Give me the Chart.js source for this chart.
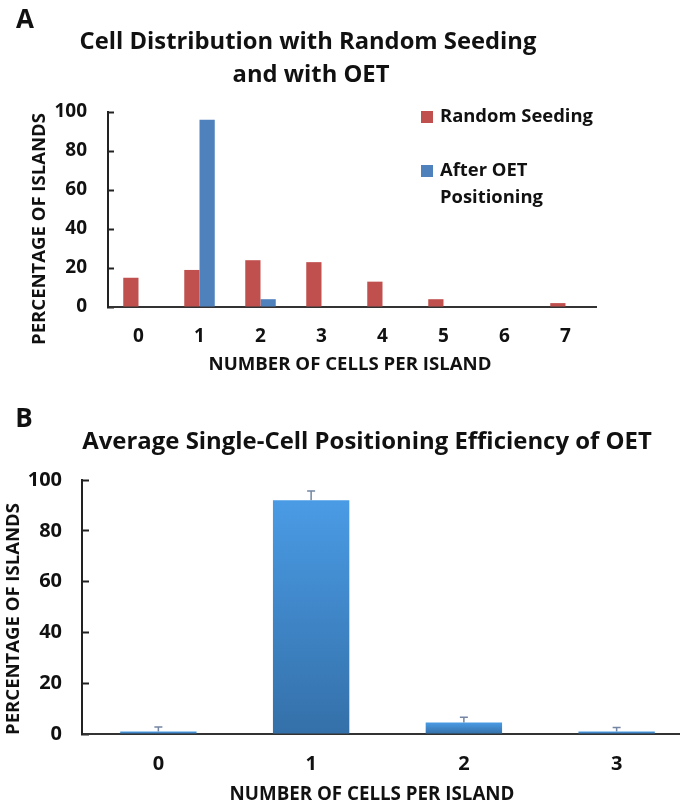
<!DOCTYPE html>
<html>
<head>
<meta charset="utf-8">
<script src="https://cdn.jsdelivr.net/npm/chart.js@4"></script>
<style>
  html, body { margin: 0; padding: 0; background: #fff; }
  #wrap { position: relative; width: 680px; height: 808px; overflow: hidden; }
  #boxA { position: absolute; left: 0; top: 0; width: 680px; height: 380px; }
  #boxB { position: absolute; left: 0; top: 380px; width: 700px; height: 428px; }
</style>
</head>
<body>
<div id="wrap">
  <div id="boxA"><canvas id="chartA" width="680" height="380"></canvas></div>
  <div id="boxB"><canvas id="chartB" width="700" height="428"></canvas></div>
</div>
<script>
// Panel A: distribution of cells per island, random seeding vs OET
const CELLS_A = ['0', '1', '2', '3', '4', '5', '6', '7'];
const RANDOM_SEEDING = [15, 19, 24, 23, 13, 4, 0, 2];
const AFTER_OET = [0, 96, 4, 0, 0, 0, 0, 0];
const SERIES_A = ['Random Seeding', 'After OET Positioning'];

// Panel B: average single-cell positioning efficiency (mean + upper error)
const CELLS_B = ['0', '1', '2', '3'];
const EFFICIENCY = [1, 92, 4.5, 1];
const EFFICIENCY_ERR = [1.8, 3.7, 2.1, 1.6];

const Y_TICKS = [0, 20, 40, 60, 80, 100];

const FONT = '"Open Sans", Lato, sans-serif';
const INK = '#111';
const RED = '#c0504d';
const BLUE = '#4f81bd';

// font size that makes text span the given width
function fitSize(ctx, text, w) {
  ctx.font = `bold 20px ${FONT}`;
  return 20 * w / ctx.measureText(text).width;
}

// free text (panel letters, titles, axis titles) and the panel A legend
const figureText = {
  id: 'figureText',
  afterDraw(chart, args, opts) {
    const ctx = chart.ctx;
    ctx.save();
    ctx.fillStyle = INK;
    ctx.textBaseline = 'middle';
    (opts.items || []).forEach(t => {
      const size = t.w ? fitSize(ctx, t.fitText || t.text, t.w) : t.size;
      ctx.save();
      ctx.font = `bold ${size}px ${FONT}`;
      ctx.textAlign = 'center';
      ctx.translate(t.x, t.y);
      if (t.rotate) ctx.rotate(t.rotate);
      ctx.fillText(t.text, 0, 0);
      ctx.restore();
    });
    if (opts.legend) {
      const lg = opts.legend;
      const size = fitSize(ctx, chart.data.datasets[0].label, lg.w);
      ctx.font = `bold ${size}px ${FONT}`;
      ctx.textAlign = 'left';
      chart.data.datasets.forEach((ds, i) => {
        const y = lg.y[i];
        ctx.fillStyle = ds.backgroundColor;
        ctx.fillRect(lg.x, y - 6, 12, 12);
        ctx.fillStyle = INK;
        const lines = ds.label.replace('OET ', 'OET\n').split('\n');
        lines.forEach((line, k) => ctx.fillText(line, lg.x + 19, y + k * lg.lineGap));
      });
    }
    ctx.restore();
  }
};

// upward error bars for panel B
const errorBars = {
  id: 'errorBars',
  afterDatasetsDraw(chart, args, opts) {
    if (!opts.errors) return;
    const ctx = chart.ctx;
    const y = chart.scales.y;
    const meta = chart.getDatasetMeta(0);
    ctx.save();
    ctx.strokeStyle = '#7486a3';
    ctx.lineWidth = 1.5;
    meta.data.forEach((bar, i) => {
      const v = chart.data.datasets[0].data[i];
      const y0 = y.getPixelForValue(v);
      const y1 = y.getPixelForValue(v + opts.errors[i]);
      ctx.beginPath();
      ctx.moveTo(bar.x, y0);
      ctx.lineTo(bar.x, y1);
      ctx.moveTo(bar.x - 4, y1);
      ctx.lineTo(bar.x + 4, y1);
      ctx.stroke();
    });
    ctx.restore();
  }
};

function yScale(width, tickSize, tickLen, gap) {
  return {
    min: 0,
    max: 100,
    afterBuildTicks: s => { s.ticks = Y_TICKS.map(v => ({ value: v })); },
    afterFit: s => { s.width = width; },
    grid: { drawOnChartArea: false, drawTicks: true, tickLength: tickLen, color: '#222', tickWidth: 2 },
    border: { display: true, color: '#222', width: 2 },
    ticks: { color: INK, font: { family: FONT, size: tickSize, weight: 'bold' }, padding: gap - tickLen }
  };
}

function xScale(height, tickSize, pad) {
  return {
    afterFit: s => { s.height = height; },
    grid: { display: false, drawTicks: false, tickLength: 0 },
    border: { display: true, color: '#333', width: 2 },
    ticks: { color: INK, font: { family: FONT, size: tickSize, weight: 'bold' }, padding: pad }
  };
}

new Chart(document.getElementById('chartA'), {
  type: 'bar',
  data: {
    labels: CELLS_A,
    datasets: [
      { label: SERIES_A[0], data: RANDOM_SEEDING, backgroundColor: RED, borderWidth: 0 },
      { label: SERIES_A[1], data: AFTER_OET, backgroundColor: BLUE, borderWidth: 0 }
    ]
  },
  options: {
    responsive: false,
    animation: false,
    layout: { padding: { left: 0, right: 84, top: 112, bottom: 0 } },
    datasets: { bar: { categoryPercentage: 0.5, barPercentage: 1.0 } },
    scales: {
      x: xScale(73, 19, 18),
      y: yScale(108, 19, -6, 21)
    },
    plugins: {
      legend: { display: false },
      tooltip: { enabled: false },
      figureText: {
        items: [
          { text: 'A', x: 25, y: 21, size: 26 },
          { text: 'Cell Distribution with Random Seeding', x: 308, y: 42, w: 457 },
          { text: 'and with OET', fitText: 'Cell Distribution with Random Seeding', x: 311, y: 75, w: 457 },
          { text: 'PERCENTAGE OF ISLANDS', x: 40, y: 229, w: 232, rotate: -Math.PI / 2 },
          { text: 'NUMBER OF CELLS PER ISLAND', x: 350, y: 365, w: 283 }
        ],
        legend: { x: 421, y: [117, 171], lineGap: 27, w: 153 }
      }
    }
  },
  plugins: [figureText]
});

new Chart(document.getElementById('chartB'), {
  type: 'bar',
  data: {
    labels: CELLS_B,
    datasets: [{
      label: 'Efficiency',
      data: EFFICIENCY,
      borderWidth: 0,
      backgroundColor: (c) => {
        const chart = c.chart;
        const ys = chart.scales.y;
        if (!chart.chartArea || !ys || c.raw == null) return '#3f86cf';
        const top = ys.getPixelForValue(c.raw);
        const base = ys.getPixelForValue(0);
        if (!isFinite(top) || base - top < 1) return '#3f86cf';
        const g = chart.ctx.createLinearGradient(0, top, 0, base);
        g.addColorStop(0, '#4a9be5');
        g.addColorStop(1, '#3470a9');
        return g;
      }
    }]
  },
  options: {
    responsive: false,
    animation: false,
    layout: { padding: { left: 0, right: 7, top: 100, bottom: 0 } },
    datasets: { bar: { categoryPercentage: 0.5, barPercentage: 1.0 } },
    scales: {
      x: xScale(74, 20, 18),
      y: yScale(82, 20, -7, 20)
    },
    plugins: {
      legend: { display: false },
      tooltip: { enabled: false },
      errorBars: { errors: EFFICIENCY_ERR },
      figureText: {
        items: [
          { text: 'B', x: 24, y: 40, size: 26 },
          { text: 'Average Single-Cell Positioning Efficiency of OET', x: 367, y: 62, w: 570 },
          { text: 'PERCENTAGE OF ISLANDS', x: 14, y: 239, w: 232, rotate: -Math.PI / 2 },
          { text: 'NUMBER OF CELLS PER ISLAND', x: 372, y: 415, w: 285 }
        ]
      }
    }
  },
  plugins: [figureText, errorBars]
});
</script>
</body>
</html>
